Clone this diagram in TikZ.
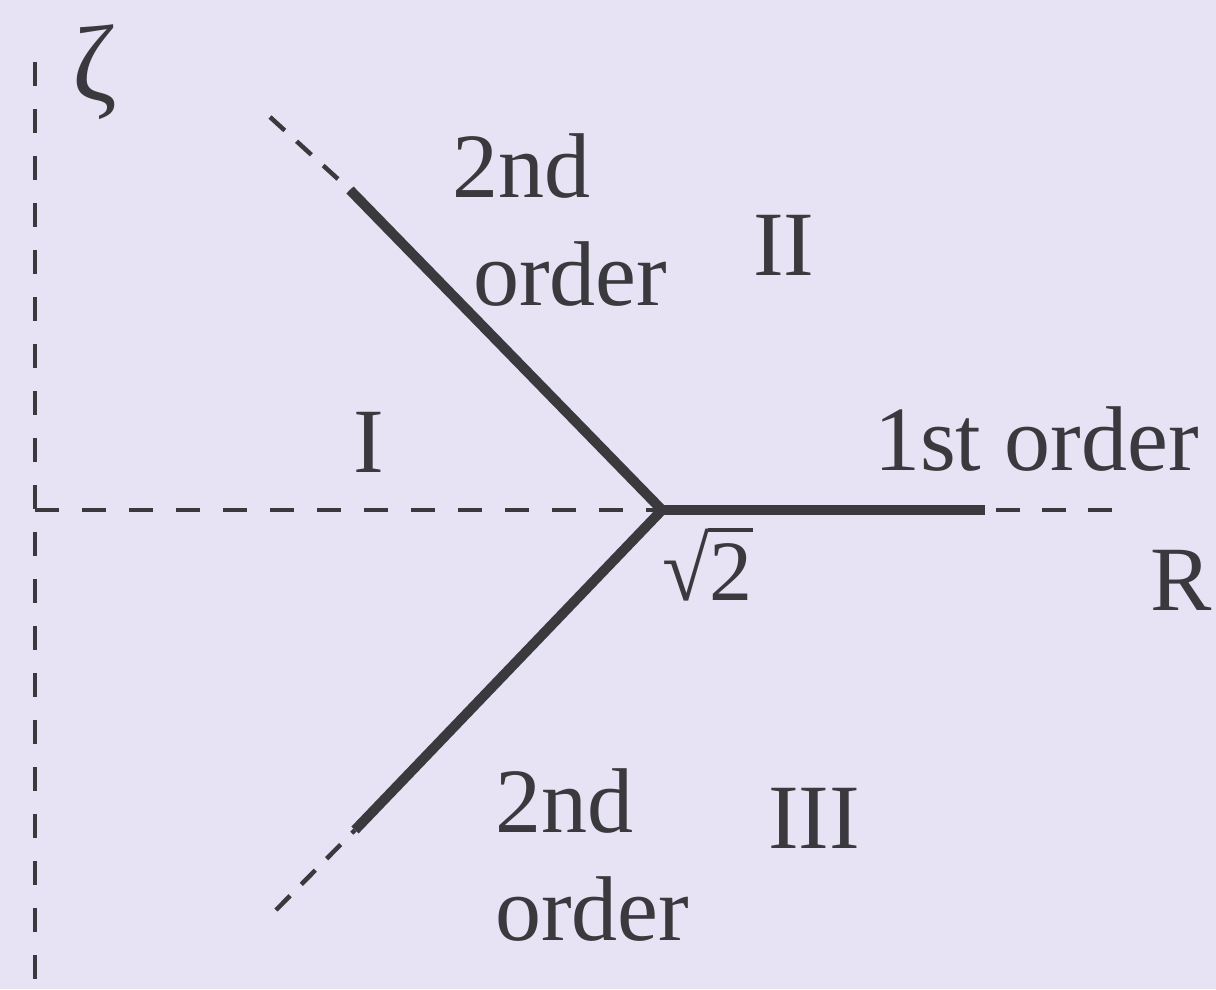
\documentclass[tikz,border=0pt]{standalone}
\usepackage{fontspec}
\setmainfont{Liberation Serif}
\definecolor{bg}{RGB}{231,227,245}
\definecolor{ink}{RGB}{58,58,62}
\begin{document}
\begin{tikzpicture}[x=1pt,y=-1pt,
  thickline/.style={line width=10pt, draw=ink},
  dashline/.style={line width=4.5pt, draw=ink, dash pattern=on 24pt off 23pt},
  diagdash/.style={line width=4.5pt, draw=ink, dash pattern=on 20pt off 16pt},
  lbl/.style={inner sep=0pt, anchor=base west, text=ink, font=\fontsize{92}{100}\selectfont}]
\fill[bg] (0,0) rectangle (1216,989);
\useasboundingbox (0,0) rectangle (1216,989);
% axes
\coordinate (O) at (35,510);
\coordinate (Ztop) at (35,62);
\coordinate (Zbot) at (35,989);
\coordinate (Rend) at (1112,510);
\coordinate (J) at (662,510);
\draw[dashline] (Ztop) -- (Zbot);
\draw[dashline] (O) -- (J);
% branches
\coordinate (Ua) at (350,190);
\coordinate (Ub) at (270,117);
\coordinate (La) at (355,830);
\coordinate (Lb) at (276,910);
\coordinate (Ra) at (985,510);
\draw[diagdash] (Ub) -- (Ua);
\draw[diagdash] (Lb) -- (La);
\draw[dashline, dash pattern=on 24pt off 22pt] (Rend) -- (Ra);
\draw[thickline, line join=miter] (Ua) -- (J) -- (La);
\draw[thickline] (J) -- (Ra);
% labels
\node[lbl, anchor=center, font=\fontsize{108}{110}\selectfont] (zeta) at (95,72) {ζ};
\node[lbl] (u2nd) at (452,197) {2nd};
\node[lbl] (uorder) at (473,305) {order};
\node[lbl] (II) at (753,275) {II};
\node[lbl] (I) at (353,472) {I};
\node[lbl] (first) at (874,470) {1st order};
\node[lbl, font=\fontsize{86}{90}\selectfont] (sqrt) at (662,600) {\scalebox{1}[1.05]{√}2};
\draw[ink, line width=4pt] ([xshift=-45pt,yshift=-2pt]sqrt.north east) -- ([yshift=-2pt]sqrt.north east);
\node[lbl] (R) at (1150,610) {R};
\node[lbl] (l2nd) at (495,832) {2nd};
\node[lbl] (III) at (768,848) {III};
\node[lbl] (lorder) at (495,940) {order};
\end{tikzpicture}
\end{document}
